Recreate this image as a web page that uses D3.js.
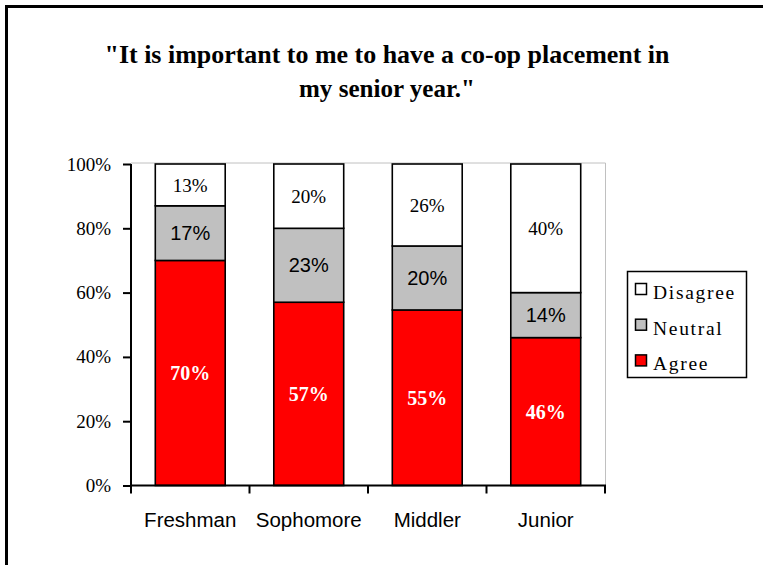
<!DOCTYPE html>
<html><head><meta charset="utf-8">
<script src="https://cdn.jsdelivr.net/npm/d3@7"></script>
<style>html,body{margin:0;padding:0;background:#fff;}svg{display:block;}</style>
</head><body>
<svg id="c" width="763" height="565"></svg>
<script>
const categories = ["Freshman", "Sophomore", "Middler", "Junior"];
const agree    = [70, 57, 54.6, 46];
const neutral  = [17, 23, 19.9, 14];
const disagree = [13, 20, 25.5, 40];
const seriesNames = ["Disagree", "Neutral", "Agree"];
const seriesColors = {Agree: "#ff0000", Neutral: "#c0c0c0", Disagree: "#ffffff"};
const yTicks = [0, 20, 40, 60, 80, 100];
const titleLines = ["\"It is important to me to have a co-op placement in", "my senior year.\""];

const serif = "'Liberation Serif','Times New Roman',serif";
const sans = "'Liberation Sans',Arial,sans-serif";

const svg = d3.select("#c");

// outer frame
svg.append("path").attr("d", "M6.5,570V6.5H770").attr("fill", "none").attr("stroke", "#000").attr("stroke-width", 3);

// title
const title = svg.append("text").attr("text-anchor", "middle").attr("font-family", serif)
  .attr("font-weight", "bold").attr("font-size", 26).attr("fill", "#000");
const titleWidths = [565, 176];
titleLines.forEach((t, i) => title.append("tspan").attr("x", 387).attr("y", 63 + i * 34)
  .attr("textLength", titleWidths[i]).attr("lengthAdjust", "spacingAndGlyphs").text(t));

const x0 = 131, x1 = 605, yTop = 164, yBot = 485.5;
const x = d3.scaleBand().domain(categories).range([x0, x1]).padding(0);
const xBar = d3.scaleBand().domain(categories).range([x0, x1]).paddingInner(0.41).paddingOuter(0.205);
const y = d3.scaleLinear().domain([0, 100]).range([yBot, yTop]);

// plot area border (light gray)
svg.append("path").attr("d", `M${x0},${yTop - 1}H${x1 + 0.5}V${yBot}`).attr("fill", "none").attr("stroke", "#c0c0c0").attr("stroke-width", 1);

// stacked data
const rows = categories.map((c, i) => ({cat: c, Agree: agree[i], Neutral: neutral[i], Disagree: disagree[i]}));
const stack = d3.stack().keys(["Agree", "Neutral", "Disagree"])(rows);

const g = svg.append("g");
stack.forEach(layer => {
  g.selectAll(null).data(layer).enter().append("rect")
    .attr("x", d => xBar(d.data.cat))
    .attr("width", xBar.bandwidth())
    .attr("y", d => y(d[1]))
    .attr("height", d => y(d[0]) - y(d[1]))
    .attr("fill", seriesColors[layer.key])
    .attr("stroke", "#000").attr("stroke-width", 1.6);
});

// labels
const labelStyle = {
  Agree: {font: serif, weight: "bold", size: 20, fill: "#fff"},
  Neutral: {font: sans, weight: "normal", size: 20, fill: "#000"},
  Disagree: {font: serif, weight: "normal", size: 19, fill: "#000"}
};
stack.forEach(layer => {
  const s = labelStyle[layer.key];
  g.selectAll(null).data(layer).enter().append("text")
    .attr("x", d => xBar(d.data.cat) + xBar.bandwidth() / 2)
    .attr("y", d => (y(d[0]) + y(d[1])) / 2)
    .attr("dy", "0.35em")
    .attr("text-anchor", "middle")
    .attr("font-family", s.font).attr("font-weight", s.weight).attr("font-size", s.size)
    .attr("fill", s.fill)
    .text(d => Math.round(d[1] - d[0]) + "%");
});

// y axis
const yAxis = svg.append("g").attr("transform", `translate(${x0},0)`)
  .call(d3.axisLeft(y).tickValues(yTicks).tickSize(8).tickPadding(12).tickFormat(d => d + "%"));
yAxis.select(".domain").attr("stroke", "#000").attr("stroke-width", 2).attr("d", `M0,${yTop}V${yBot}`);
yAxis.selectAll(".tick line").attr("stroke", "#000").attr("stroke-width", 2);
yAxis.selectAll(".tick text").attr("font-family", serif).attr("font-size", 19).attr("fill", "#000");

// x axis
const xa = svg.append("g");
xa.append("line").attr("x1", x0 - 1).attr("x2", x1 + 1).attr("y1", yBot).attr("y2", yBot).attr("stroke", "#000").attr("stroke-width", 2);
const bounds = categories.map(c => x(c)).concat([x(categories[categories.length - 1]) + x.bandwidth()]);
xa.selectAll(null).data(bounds).enter().append("line")
  .attr("x1", d => d).attr("x2", d => d).attr("y1", yBot).attr("y2", yBot + 8)
  .attr("stroke", "#000").attr("stroke-width", 2);
xa.selectAll(null).data(categories).enter().append("text")
  .attr("x", d => x(d) + x.bandwidth() / 2).attr("y", 527)
  .attr("text-anchor", "middle").attr("font-family", sans).attr("font-size", 20.5).attr("fill", "#000")
  .text(d => d);

// legend
const lg = svg.append("g");
lg.append("rect").attr("x", 627.5).attr("y", 271.5).attr("width", 119).attr("height", 106)
  .attr("fill", "#fff").attr("stroke", "#000").attr("stroke-width", 1.5);
seriesNames.forEach((n, i) => {
  const yy = 283.5 + i * 35.7;
  lg.append("rect").attr("x", 635.5).attr("y", yy).attr("width", 11).attr("height", 11)
    .attr("fill", seriesColors[n]).attr("stroke", "#000").attr("stroke-width", 1.5);
  lg.append("text").attr("x", 653).attr("y", yy + 15.5)
    .attr("font-family", serif).attr("font-size", 19.5).attr("letter-spacing", 1.7).attr("fill", "#000")
    .text(n);
});
</script>
</body></html>
